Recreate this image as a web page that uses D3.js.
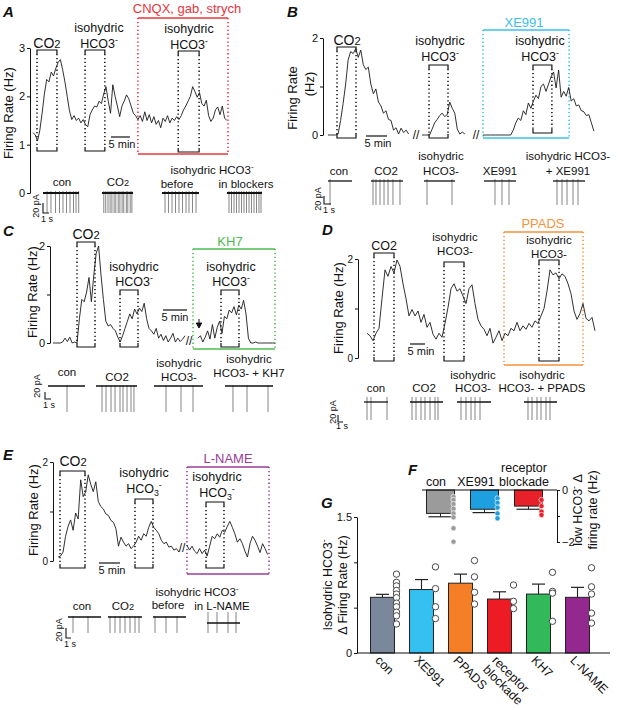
<!DOCTYPE html>
<html><head><meta charset="utf-8">
<script src="https://cdn.jsdelivr.net/npm/d3@7"></script>
<style>body{margin:0;background:#fff} svg text{font-family:"Liberation Sans",Arial,Helvetica,sans-serif}</style>
</head><body><script>
// ---------------- DATA ----------------
// firing-rate time courses (Hz), sampled at a fixed step (minutes) per segment
const traceA = [1.25,1.2,1.08,1.3,1.65,2.05,2.35,2.3,2.5,2.42,2.58,2.7,2.76,2.55,2.3,2.0,1.7,1.52,1.6,1.5,1.55,1.45,1.52,1.42,1.37,1.62,1.72,1.8,1.78,1.9,1.85,2.05,2.2,1.9,1.65,2.24,2.0,1.8,1.58,1.8,1.9,2.03,1.95,1.8,1.65,1.6,1.52,1.6,1.48,1.68,1.5,1.62,1.45,1.58,1.42,1.5,1.35,1.55,1.48,1.6,1.45,1.55,1.5,1.58,1.52,1.6,1.72,1.8,1.9,2.0,2.2,2.1,1.98,2.08,1.85,1.8,1.92,1.6,1.48,1.55,1.72,1.78,1.62,1.8,1.55,1.5];
const traceB1 = [0,0,0,0,0.02,0.3,0.65,1.05,1.55,1.72,1.68,1.78,1.6,1.75,1.45,1.35,1.4,1.05,0.85,0.95,0.68,0.6,0.45,0.5,0.32,0.3,0.1,0.15,0.02,0.14,0.05,0.1,0.02];
const traceB2 = [0,0,0,0,0.12,0.25,0.32,0.4,0.45,0.38,0.42,0.68,0.55,0.45,0.12,0.02,0.06,0.02];
const traceB3 = [0,0,0,0,0,0,0,0,0,0,0,0,0.1,0.25,0.35,0.3,0.5,0.42,0.66,0.55,0.7,0.82,0.75,1.0,1.05,0.9,1.05,1.2,1.3,0.97,1.34,0.78,0.9,0.8,0.98,0.7,0.75,0.6,0.62,0.5,0.48,0.4,0.42,0.25,0.08];
const traceC1 = [0,0,0,0,0.02,0.1,0.03,0.12,0,0.02,0,0.5,0.9,0.85,1.05,1.35,0.85,1.4,1.85,2.0,1.4,0.9,0.45,0.35,0.38,0.3,0.25,0.12,0.02,0.15,0.3,0.45,0.6,0.5,0.7,0.6,0.72,0.65,0.82,0.5,0.3,0.25,0.18,0.3,0.1,0.18,0.05,0.15,0.02,0.1,0.2,0.02,0.1,0.03,0.08,0.15];
const traceC2 = [0.1,0.15,0.02,0.12,0.25,0.08,0.38,0.1,0.32,0.45,0.2,0.55,0.5,0.68,0.62,0.75,0.58,0.78,0.7,0.88,0.6,0.1,0,0,0.02,0,0,0,0,0,0,0,0];
const traceD = [0.5,0.45,0.35,0.5,0.6,1.2,1.78,1.65,1.85,1.72,1.98,1.85,1.5,1.2,0.85,0.98,0.85,0.95,0.72,0.88,0.62,0.72,0.48,0.38,0.5,0.42,0.7,1.02,1.4,1.5,1.35,1.4,1.25,1.1,1.4,1.48,1.1,0.78,0.65,0.58,0.45,0.6,0.3,0.42,0.55,0.35,0.5,0.45,0.6,0.55,0.72,0.55,0.65,0.58,0.7,0.62,0.75,0.7,0.85,1.0,1.35,1.78,1.68,1.72,1.6,1.7,1.65,1.5,1.3,0.95,0.78,0.9,1.1,0.8,0.75,0.82,0.55];
const traceE1 = [0.08,0.1,0.18,0.5,0.7,0.83,0.62,0.97,0.85,1.64,1.3,1.4,1.74,1.55,1.4,1.6,1.2,1.1,1.05,0.95,0.92,0.82,0.78,0.65,0.3,0.48,0.38,0.3,0.35,0.25,0.3,0.38,0.5,0.42,0.55,0.5,0.68,0.8,0.68,0.62,0.55,0.42,0.35,0.38,0.28,0.3,0.22,0.25,0.18];
const traceE2 = [0.32,0.22,0.3,0.2,0.15,0.25,0.15,0.22,0.1,0.3,0.5,0.45,0.55,0.48,0.62,0.58,0.7,0.8,0.68,0.55,0.38,0.45,0.35,0.2,0.08,0.35,0.5,0.42,0.3,0.17,0.35,0.25,0.13];

// condition windows (minutes on each panel's time axis)
const windowsA = [[1.05,6.3],[13.7,18.9],[38.2,43.7]], drugA = [27.6,51.3];
const windowsB = [[2.14,6.67],[24.05,28.57],[48.8,53.3]], drugB = [36.9,57.4];
const windowsC = [[5,8.75],[13.96,17.71],[35,38.75]], drugC = [29.17,46.25];
const windowsD = [[2.33,9],[25.67,32.33],[57.33,64]], drugD = [45.67,72];
const windowsE = [[0.48,6.43],[18.33,22.62],[35.24,39.52]], drugE = [30.71,50.24];

// spike times (s) in the example current traces
const spikesA = [[0.67,1.33,2.08,2.75,3.33,3.92,4.5,5.08,5.5,5.95],
  [0.3,0.62,1.0,1.35,1.65,2.02,2.3,2.7,2.98,3.35,3.62,4.05,4.3,4.7,4.98],
  [0.5,1.08,1.67,2.25,2.83,3.42,4.0,4.5,5.08,5.67],
  [0.33,0.75,1.17,1.58,2.0,2.42,2.83,3.25,3.67,4.08,4.5,4.92,5.33,5.67]];
const spikesB = [[0.29],[0.29,0.71,1.29,1.86,2.43,3.14,4.14],[0.43,4.0],[1.57,2.57,3.57],[0.57,1.29,2.0,2.86,3.57]];
const spikesC = [[3.17],[1.0,1.67,2.5,3.17,4.0,4.5,5.17,5.83,6.33],[2.0,4.5,6.5],[1.33,3.67,7.17]];
const spikesD = [[0.6,1.4,4.6],[0.4,1.2,2.2,3.0,4.0,5.0,5.6],[0.8,1.8,2.8,3.6,4.6],[0.8,1.6,2.6,3.4,4.4,5.2]];
const spikesE = [[1.0,4.0],[0.4,1.4,2.4,3.4,4.4,5.4,6.2],[0.4,2.6,4.8],[0.2,2.0,4.2,5.8]];

// panel F
const catF = ["con","XE991","receptor blockade"];
const meanF = [-0.9,-0.74,-0.62];
const semF = [0.13,0.13,0.12];
const ptsF = [[-0.26,-0.38,-0.54,-0.72,-0.9,-1.05,-1.47,-1.99],[-0.32,-0.49,-0.68,-0.9,-1.09],[-0.38,-0.62,-0.83,-0.96]];
// panel G
const catG = ["con","XE991","PPADS","receptor blockade","KH7","L-NAME"];
const meanG = [0.614,0.70,0.77,0.595,0.65,0.614];
const semG = [0.033,0.11,0.10,0.08,0.11,0.11];
const ptsG = [[0.87,0.78,0.74,0.69,0.65,0.61,0.55,0.51,0.45,0.41,0.32],[0.95,0.71,0.51,0.38],[1.02,0.84,0.67,0.54],[0.75,0.57,0.49],[0.89,0.68,0.66,0.35],[0.94,0.73,0.65,0.44,0.33]];

// ---------------- DRAWING ----------------
const INK = "#111";
const svg = d3.select("body").append("svg").attr("width",618).attr("height",710);

function rich(t, s, size){
  const re=/\{(sup|sub|sm):([^}]*)\}/g; let last=0,m; const parts=[];
  while((m=re.exec(s))){ if(m.index>last) parts.push(["n",s.slice(last,m.index)]); parts.push([m[1],m[2]]); last=re.lastIndex; }
  if(last<s.length) parts.push(["n",s.slice(last)]);
  let shift=0;
  parts.forEach(([k,v])=>{
    const ts=t.append("tspan").text(v); let target=0;
    if(k==="sup"){ts.attr("font-size",size*0.7); target=-size*0.42;}
    else if(k==="sub"){ts.attr("font-size",size*0.7); target=size*0.22;}
    else if(k==="sm"){ts.attr("font-size",size*0.8);}
    if(target-shift) ts.attr("dy",target-shift); shift=target;
  });
}
function txt(g,x,y,s,o={}){
  const size=o.size||12;
  const t=g.append("text").attr("x",x).attr("y",y).attr("font-size",size)
    .attr("text-anchor",o.anchor||"middle").attr("fill",o.color||INK);
  if(o.weight) t.attr("font-weight",o.weight);
  if(o.style) t.attr("font-style",o.style);
  rich(t,s,size); return t;
}
function rtxt(g,x,y,s,rot,o={}){
  const size=o.size||12;
  const gg=g.append("g").attr("transform",`translate(${x},${y}) rotate(${rot})`);
  return txt(gg,0,size*0.35,s,o);
}
function bracket(g,x0,x1,top,bot){
  const p1=g.append("path").attr("d",`M${x0},${top+4}V${top}H${x1}V${top+4}`);
  const p2=g.append("path").attr("d",`M${x0},${bot-4}V${bot}H${x1}V${bot-4}`);
  [p1,p2].forEach(p=>p.attr("stroke",INK).attr("stroke-width",1.2).attr("fill","none"));
  [x0,x1].forEach(xx=>g.append("line").attr("x1",xx).attr("x2",xx).attr("y1",top+4).attr("y2",bot-4)
    .attr("stroke",INK).attr("stroke-width",1.5).attr("stroke-dasharray","1.3,2.6"));
}
function drugBox(g,x0,x1,top,bot,color){
  [top,bot].forEach(yy=>g.append("line").attr("x1",x0).attr("x2",x1).attr("y1",yy).attr("y2",yy)
    .attr("stroke",color).attr("stroke-width",1.5));
  [x0,x1].forEach(xx=>g.append("line").attr("x1",xx).attr("x2",xx).attr("y1",top).attr("y2",bot)
    .attr("stroke",color).attr("stroke-width",1.6).attr("stroke-dasharray","1.3,2.6"));
}

function tracePanel(P){
  const g=svg.append("g");
  const y=d3.scaleLinear().domain([0,P.yMax]).range([P.yZero,P.yTop]);
  const x=d3.scaleLinear().domain([0,P.tMax]).range([P.xStart,P.xEnd]);
  const ax=g.append("g").attr("transform",`translate(${P.axisX},0)`)
    .call(d3.axisLeft(y).tickValues(P.ticks).tickSize(3).tickSizeOuter(0).tickPadding(2)
      .tickFormat(d=>P.tickLabels.includes(d)?String(d):""));
  ax.selectAll("path,line").attr("stroke",INK).attr("stroke-width",1);
  ax.selectAll("text").attr("font-size",P.tickFont||11).attr("fill",INK).attr("font-family",null);
  P.yTitle.forEach(t=>rtxt(g,t.x,t.y,t.s,-90,{size:13}));
  drugBox(g,x(P.drug[0]),x(P.drug[1]),P.box.top,P.box.bot,P.box.color);
  txt(g,P.box.lx,P.box.ly,P.box.label,{size:13,color:P.box.color});
  P.windows.forEach((w,i)=>{
    const b=P.brackets[i];
    bracket(g,x(w[0]),x(w[1]),b.top,b.bot);
    const lx=b.lx!==undefined?b.lx:(x(w[0])+x(w[1]))/2;
    b.labels.forEach(l=>txt(g,lx,l.y,l.s,{size:l.size||12.5}));
  });
  const line=d3.line().x(d=>x(d[0])).y(d=>y(d[1]));
  P.segments.forEach(s=>{
    const pts=s.values.map((v,i)=>[s.t0+i*s.step,v]);
    g.append("path").attr("d",line(pts)).attr("fill","none").attr("stroke","#1a1a1a")
      .attr("stroke-width",0.9).attr("stroke-linejoin","round");
  });
  (P.breaks||[]).forEach(b=>txt(g,b.x,b.y,"//",{size:12}));
  g.append("line").attr("x1",x(P.bar5[0])).attr("x2",x(P.bar5[1])).attr("y1",P.bar5y).attr("y2",P.bar5y)
    .attr("stroke",INK).attr("stroke-width",1.2);
  txt(g,P.bar5t[0],P.bar5t[1],"5 min",{size:11});
  const R=P.rec;
  R.traces.forEach((tr,i)=>{
    const base=tr.base||R.base;
    const sx=d3.scaleLinear().domain([0,1]).range([tr.xs,tr.xs+R.pps]);
    R.spikes[i].forEach(t=>g.append("line").attr("x1",sx(t)).attr("x2",sx(t))
      .attr("y1",base-(tr.up||R.up)).attr("y2",base+(tr.down||R.down)).attr("stroke","#777").attr("stroke-width",0.9));
    g.append("line").attr("x1",tr.xs).attr("x2",tr.xe).attr("y1",base).attr("y2",base)
      .attr("stroke","#111").attr("stroke-width",R.bw||1.3);
  });
  R.labels.forEach(l=>txt(g,l.x,l.y,l.s,{size:l.size||R.font||12}));
  const S=R.scale;
  g.append("path").attr("d",`M${S.lx},${S.ly-S.h}V${S.ly}H${S.lx+R.pps}`).attr("fill","none").attr("stroke",INK).attr("stroke-width",1.1);
  rtxt(g,S.pa[0],S.pa[1],"20 pA",-90,{size:9});
  txt(g,S.s[0],S.s[1],"1 s",{size:9});
  txt(g,P.letter[0],P.letter[1],P.letter[2],{size:15,weight:"bold",style:"italic",anchor:"start"});
}

const iso = (y1,y2,lx,size)=>({lx, labels:[{s:"isohydric",y:y1,size},{s:"HCO3{sup:-}",y:y2,size}]});

// ---- Panel A
tracePanel({yMax:3,yZero:193,yTop:48,axisX:30,ticks:[0,1,2,3],tickLabels:[0,1,2,3],
  yTitle:[{x:8,y:113,s:"Firing Rate (Hz)"}],
  tMax:51.3,xStart:33,xEnd:228,
  segments:[{t0:0,step:0.6,values:traceA}],
  windows:windowsA,
  brackets:[{top:50,bot:151,labels:[{s:"CO{sm:2}",y:48,size:14}]},
    Object.assign({top:50,bot:151},iso(32,48,99)),
    Object.assign({top:51,bot:152},iso(33,49,189))],
  drug:drugA, box:{top:18,bot:154,color:"#e8363d",label:"CNQX, gab, strych",lx:187,ly:13},
  bar5:[20.5,25.5],bar5y:137,bar5t:[122,148],
  rec:{base:193,pps:6,up:2,down:20,bw:2,font:11.5,spikes:spikesA,
    traces:[{xs:43,xe:79},{xs:102,xe:133},{xs:162,xe:199},{xs:227,xe:262}],
    labels:[{s:"con",x:62,y:186},{s:"CO{sm:2}",x:118,y:186},{s:"isohydric HCO3{sup:-}",x:212,y:174},
      {s:"before",x:177,y:187.5},{s:"in blockers",x:246,y:187.5}],
    scale:{lx:43,ly:213,h:10,pa:[36,206],s:[47,222]}},
  letter:[3,17,"A"]});

// ---- Panel B
tracePanel({yMax:2,yZero:135,yTop:38,axisX:323,ticks:[0,1,2],tickLabels:[0,2],
  yTitle:[{x:292,y:98,s:"Firing Rate"},{x:309,y:84,s:"(Hz)"}],
  tMax:63.8,xStart:328,xEnd:596,
  segments:[{t0:0,step:0.6,values:traceB1},{t0:22.38,step:0.6,values:traceB2},{t0:36.9,step:0.6,values:traceB3}],
  windows:windowsB,
  brackets:[{top:47,bot:138,lx:347,labels:[{s:"CO{sm:2}",y:45,size:14}]},
    Object.assign({top:65,bot:138},iso(45,61,440)),
    Object.assign({top:65,bot:133},iso(45,61,540))],
  drug:drugB, box:{top:30,bot:138,color:"#3cc0ea",label:"XE991",lx:524,ly:27},
  breaks:[{x:416,y:139},{x:476,y:139}],
  bar5:[9.05,14.05],bar5y:136,bar5t:[378,147],
  rec:{base:181,pps:7,up:2,down:24,font:11.5,spikes:spikesB,
    traces:[{xs:328,xe:352},{xs:371,xe:403},{xs:424,xe:455},{xs:484,xe:516},{xs:553,xe:585}],
    labels:[{s:"con",x:339,y:175},{s:"CO2",x:386,y:175},{s:"isohydric",x:441,y:160},{s:"HCO3-",x:441,y:175},
      {s:"XE991",x:500,y:175},{s:"isohydric HCO3-",x:568,y:160},{s:"+ XE991",x:568,y:175}],
    scale:{lx:324,ly:204,h:8,pa:[318,199],s:[329,213]}},
  letter:[287,17,"B"]});

// ---- Panel C
tracePanel({yMax:2,yZero:343,yTop:246,axisX:50,ticks:[0,1,2],tickLabels:[0,2],
  yTitle:[{x:32,y:292,s:"Firing Rate (Hz)"}],
  tMax:46.25,xStart:53,xEnd:275,
  segments:[{t0:0,step:0.5,values:traceC1},{t0:30.21,step:0.5,values:traceC2}],
  windows:windowsC,
  brackets:[{top:242,bot:347,lx:86,labels:[{s:"CO{sm:2}",y:239,size:14}]},
    Object.assign({top:290,bot:347},iso(271,286,134)),
    Object.assign({top:290,bot:347},iso(271,286,231))],
  drug:drugC, box:{top:249,bot:349,color:"#4cbb4f",label:"KH7",lx:230,ly:246},
  breaks:[{x:189,y:345}],
  bar5:[22.92,27.92],bar5y:310,bar5t:[175,321],
  rec:{base:386,pps:6,up:1,down:26,font:11.5,spikes:spikesC,
    traces:[{xs:48,xe:85},{xs:96,xe:137},{xs:154,xe:203},{xs:225,xe:273}],
    labels:[{s:"con",x:67,y:376},{s:"CO2",x:117,y:381},{s:"isohydric",x:179,y:367},{s:"HCO3-",x:179,y:381},
      {s:"isohydric",x:249,y:363},{s:"HCO3- + KH7",x:249,y:377}],
    scale:{lx:45,ly:399,h:7,pa:[37,386],s:[49,408]}},
  letter:[3,236,"C"]});
svg.append("path").attr("d","M199,319V323M196.3,323H201.7L199,328Z").attr("fill",INK).attr("stroke",INK).attr("stroke-width",1);

// ---- Panel D
tracePanel({yMax:2,yZero:358,yTop:259,axisX:358,ticks:[0,1,2],tickLabels:[0,2],tickFont:10,
  yTitle:[{x:338,y:308,s:"Firing Rate (Hz)"}],
  tMax:76,xStart:367,xEnd:595,
  segments:[{t0:0,step:1,values:traceD}],
  windows:windowsD,
  brackets:[{top:253,bot:361,lx:384,labels:[{s:"CO2",y:250,size:12.5}]},
    {top:262,bot:361,lx:455,labels:[{s:"isohydric",y:241,size:11.5},{s:"HCO3-",y:255,size:11.5}]},
    {top:260,bot:361,lx:549,labels:[{s:"isohydric",y:244,size:11.5},{s:"HCO3-",y:258,size:11.5}]}],
  drug:drugD, box:{top:232,bot:365,color:"#f5923e",label:"PPADS",lx:543,ly:228},
  bar5:[14.33,19.33],bar5y:344,bar5t:[421,355],
  rec:{base:402,pps:5,up:5,down:18,font:11.5,spikes:spikesD,
    traces:[{xs:364,xe:388},{xs:410,xe:443},{xs:457,xe:491},{xs:524,xe:557}],
    labels:[{s:"con",x:376,y:392},{s:"CO2",x:424,y:392},{s:"isohydric",x:473,y:379},{s:"HCO3-",x:473,y:392},
      {s:"isohydric",x:542,y:379},{s:"HCO3- + PPADS",x:542,y:392}],
    scale:{lx:338,ly:422,h:7,pa:[333,412],s:[342,429]}},
  letter:[322,235,"D"]});

// ---- Panel E
tracePanel({yMax:2,yZero:561,yTop:462,axisX:53,ticks:[0,1,2],tickLabels:[0,2],tickFont:10,
  yTitle:[{x:33,y:510,s:"Firing Rate (Hz)"}],
  tMax:50.24,xStart:58,xEnd:269,
  segments:[{t0:0,step:0.6,values:traceE1},{t0:30.71,step:0.6,values:traceE2}],
  windows:windowsE,
  brackets:[{top:471,bot:568,lx:73,labels:[{s:"CO{sm:2}",y:466,size:14}]},
    {top:499,bot:568,lx:144,labels:[{s:"isohydric",y:477},{s:"HCO{sub:3}{sup:-}",y:493}]},
    {top:502,bot:568,lx:217,labels:[{s:"isohydric",y:481},{s:"HCO{sub:3}{sup:-}",y:497}]}],
  drug:drugE, box:{top:467,bot:574,color:"#9b3b98",label:"L-NAME",lx:228,ly:463},
  breaks:[{x:182,y:552}],
  bar5:[9.76,14.76],bar5y:563,bar5t:[112,574],
  rec:{base:617,pps:5,up:1,down:16,font:11.5,spikes:spikesE,
    traces:[{xs:68,xe:101},{xs:108,xe:142},{xs:153,xe:186},{xs:207,xe:240,base:623,up:11,down:10}],
    labels:[{s:"con",x:82,y:610},{s:"CO{sm:2}",x:123,y:610},{s:"isohydric HCO3{sup:-}",x:197,y:596},
      {s:"before",x:168,y:609},{s:"in L-NAME",x:222,y:610}],
    scale:{lx:66,ly:638,h:10,pa:[59,630],s:[70,647]}},
  letter:[3,460,"E"]});

// ---- Panel F
(function(){
  const g=svg.append("g");
  const colF=["#9b9b9b","#1e9fe0","#e8202a"];
  const y=d3.scaleLinear().domain([0,-2]).range([490,542]);
  const x=d3.scaleBand().domain(catF).range([424,545]).paddingInner(0.25);
  const bw=28;
  catF.forEach((c,i)=>{
    const cx=x(c)+x.bandwidth()/2;
    g.append("rect").attr("x",cx-bw/2).attr("y",y(0)).attr("width",bw).attr("height",y(meanF[i])-y(0))
      .attr("fill",colF[i]).attr("stroke","#222").attr("stroke-width",1);
    const ye=y(meanF[i]-semF[i]);
    g.append("line").attr("x1",cx).attr("x2",cx).attr("y1",y(meanF[i])).attr("y2",ye).attr("stroke","#222");
    g.append("line").attr("x1",cx-bw/2+2).attr("x2",cx+bw/2-2).attr("y1",ye).attr("y2",ye).attr("stroke","#222").attr("stroke-width",1.2);
    ptsF[i].forEach(v=>g.append("circle").attr("cx",cx+bw/2-1).attr("cy",y(v)).attr("r",2.6)
      .attr("fill",colF[i]).attr("stroke","#fff").attr("stroke-width",0.6));
  });
  g.append("line").attr("x1",422).attr("x2",557).attr("y1",y(0)).attr("y2",y(0)).attr("stroke",INK).attr("stroke-width",1.1);
  const ax=g.append("g").attr("transform","translate(557,0)")
    .call(d3.axisRight(y).tickValues([0,-1,-2]).tickSize(3).tickSizeOuter(0).tickPadding(2)
      .tickFormat(d=>d===-1?"":d3.format("d")(d)));
  ax.selectAll("path,line").attr("stroke",INK);
  ax.selectAll("text").attr("font-size",11).attr("fill",INK).attr("font-family",null);
  rtxt(g,578,510,"low HCO3{sup:-} Δ",-90,{size:12.5});
  rtxt(g,593,510,"firing rate (Hz)",-90,{size:12.5});
  txt(g,436,486,"con",{size:12.5});
  txt(g,476,486,"XE991",{size:12.5});
  txt(g,524,472,"receptor",{size:12.5});
  txt(g,524,486,"blockade",{size:12.5});
  txt(g,408,475,"F",{size:15,weight:"bold",style:"italic",anchor:"start"});
})();

// ---- Panel G
(function(){
  const g=svg.append("g");
  const colG=["#7b889c","#35c0f2","#f47f26","#ed1c24","#31b95a","#93288f"];
  const y=d3.scaleLinear().domain([0,1.5]).range([653,517]);
  const x=d3.scaleBand().domain(catG).range([357,603]).paddingInner(0.385).paddingOuter(0.346);
  const bw=x.bandwidth();
  catG.forEach((c,i)=>{
    const x0=x(c), cx=x0+bw/2;
    g.append("rect").attr("x",x0).attr("y",y(meanG[i])).attr("width",bw).attr("height",y(0)-y(meanG[i]))
      .attr("fill",colG[i]).attr("stroke","#222").attr("stroke-width",1);
    const ye=y(meanG[i]+semG[i]);
    g.append("line").attr("x1",cx).attr("x2",cx).attr("y1",y(meanG[i])).attr("y2",ye).attr("stroke","#222").attr("stroke-width",1.1);
    g.append("line").attr("x1",cx-6.5).attr("x2",cx+6.5).attr("y1",ye).attr("y2",ye).attr("stroke","#222").attr("stroke-width",1.2);
    ptsG[i].forEach(v=>g.append("circle").attr("cx",x0+bw+2).attr("cy",y(v)).attr("r",3.2)
      .attr("fill","#fff").attr("stroke","#333").attr("stroke-width",0.9));
    const lab=catG[i].split(" ");
    const tg=g.append("g").attr("transform",`translate(${cx-8},${661}) rotate(45)`);
    const t=tg.append("text").attr("x",0).attr("y",0).attr("font-size",12.5).attr("fill",INK);
    lab.forEach((w,k)=>t.append("tspan").attr("x",0).attr("dy",k?"1.05em":0).text(w));
  });
  g.append("line").attr("x1",357).attr("x2",610).attr("y1",y(0)).attr("y2",y(0)).attr("stroke",INK).attr("stroke-width",1.1);
  const ax=g.append("g").attr("transform","translate(357,0)")
    .call(d3.axisLeft(y).tickValues([0,0.5,1,1.5]).tickSize(3).tickSizeOuter(0).tickPadding(2)
      .tickFormat(d=>d===0?"0":d===1.5?"1.5":""));
  ax.selectAll("path,line").attr("stroke",INK);
  ax.selectAll("text").attr("font-size",11).attr("fill",INK).attr("font-family",null);
  rtxt(g,328,585,"Isohydric HCO3{sup:-}",-90,{size:12.5});
  rtxt(g,343,585,"Δ Firing Rate (Hz)",-90,{size:12.5});
  txt(g,321,508,"G",{size:15,weight:"bold",style:"italic",anchor:"start"});
})();
</script></body></html>
